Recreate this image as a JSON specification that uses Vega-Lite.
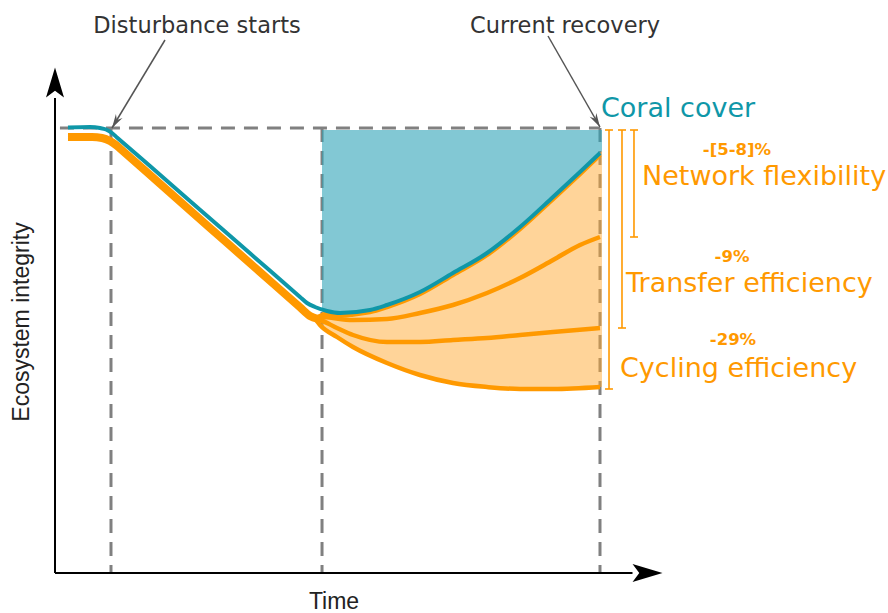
{
  "$schema": "https://vega.github.io/schema/vega-lite/v6.json",
  "width": 888,
  "height": 613,
  "autosize": "none",
  "padding": 0,
  "background": "white",
  "config": {"view": {"stroke": null}, "axis": {"disable": true}},
  "datasets": {
    "coral": [
      {"t": 2.36, "v": 89.1}, {"t": 6.36, "v": 89.2}, {"t": 8.18, "v": 89.0}, {"t": 9.27, "v": 88.7},
      {"t": 10.36, "v": 88.0}, {"t": 11.27, "v": 87.12}, {"t": 17.27, "v": 81.38}, {"t": 26.36, "v": 72.66},
      {"t": 35.45, "v": 63.94}, {"t": 44.55, "v": 55.22}, {"t": 45.82, "v": 54.0}, {"t": 47.27, "v": 53.2},
      {"t": 49.45, "v": 52.4}, {"t": 51.82, "v": 52.0}, {"t": 57.27, "v": 52.6}, {"t": 60.36, "v": 53.6},
      {"t": 66.36, "v": 56.2}, {"t": 72.36, "v": 60.0}, {"t": 78.55, "v": 64.0}, {"t": 84.55, "v": 69.2},
      {"t": 90.55, "v": 75.2}, {"t": 95.45, "v": 80.2}, {"t": 99.09, "v": 84.0}
    ],
    "decline": [
      {"t": 2.36, "v": 87.2}, {"t": 6.73, "v": 87.2}, {"t": 8.55, "v": 87.0}, {"t": 10.0, "v": 86.4},
      {"t": 11.09, "v": 85.6}, {"t": 11.82, "v": 84.9}, {"t": 19.09, "v": 77.84}, {"t": 28.18, "v": 69.02},
      {"t": 37.27, "v": 60.2}, {"t": 44.55, "v": 53.14}, {"t": 46.36, "v": 51.4}, {"t": 47.82, "v": 50.8}
    ],
    "branches": [
      {"series": "Baseline", "t": 47.45, "v": 51.0}, {"series": "Baseline", "t": 49.45, "v": 51.8},
      {"series": "Baseline", "t": 51.82, "v": 51.6}, {"series": "Baseline", "t": 57.27, "v": 52.2},
      {"series": "Baseline", "t": 60.36, "v": 53.2}, {"series": "Baseline", "t": 66.36, "v": 55.8},
      {"series": "Baseline", "t": 72.36, "v": 59.6}, {"series": "Baseline", "t": 78.55, "v": 63.6},
      {"series": "Baseline", "t": 84.55, "v": 68.8}, {"series": "Baseline", "t": 90.55, "v": 74.8},
      {"series": "Baseline", "t": 95.45, "v": 79.8}, {"series": "Baseline", "t": 99.09, "v": 83.6},
      {"series": "Network flexibility", "t": 47.45, "v": 51.0}, {"series": "Network flexibility", "t": 48.18, "v": 51.2},
      {"series": "Network flexibility", "t": 54.18, "v": 50.6}, {"series": "Network flexibility", "t": 60.36, "v": 50.8},
      {"series": "Network flexibility", "t": 66.36, "v": 52.0}, {"series": "Network flexibility", "t": 72.36, "v": 53.6},
      {"series": "Network flexibility", "t": 78.55, "v": 56.0}, {"series": "Network flexibility", "t": 84.55, "v": 59.0},
      {"series": "Network flexibility", "t": 90.55, "v": 62.6}, {"series": "Network flexibility", "t": 95.45, "v": 65.6},
      {"series": "Network flexibility", "t": 99.09, "v": 67.2},
      {"series": "Transfer efficiency", "t": 47.45, "v": 50.8}, {"series": "Transfer efficiency", "t": 48.18, "v": 50.6},
      {"series": "Transfer efficiency", "t": 51.27, "v": 49.0}, {"series": "Transfer efficiency", "t": 54.18, "v": 47.6},
      {"series": "Transfer efficiency", "t": 60.36, "v": 46.2}, {"series": "Transfer efficiency", "t": 66.36, "v": 46.2},
      {"series": "Transfer efficiency", "t": 72.36, "v": 46.6}, {"series": "Transfer efficiency", "t": 78.55, "v": 47.0},
      {"series": "Transfer efficiency", "t": 84.55, "v": 47.6}, {"series": "Transfer efficiency", "t": 90.55, "v": 48.2},
      {"series": "Transfer efficiency", "t": 99.09, "v": 49.0},
      {"series": "Cycling efficiency", "t": 47.45, "v": 50.6}, {"series": "Cycling efficiency", "t": 48.18, "v": 49.6},
      {"series": "Cycling efficiency", "t": 51.27, "v": 47.2}, {"series": "Cycling efficiency", "t": 54.18, "v": 45.2},
      {"series": "Cycling efficiency", "t": 60.36, "v": 42.0}, {"series": "Cycling efficiency", "t": 66.36, "v": 39.6},
      {"series": "Cycling efficiency", "t": 72.36, "v": 38.0}, {"series": "Cycling efficiency", "t": 78.55, "v": 37.2},
      {"series": "Cycling efficiency", "t": 84.55, "v": 36.8}, {"series": "Cycling efficiency", "t": 90.55, "v": 36.8},
      {"series": "Cycling efficiency", "t": 99.09, "v": 37.2}
    ],
    "fills": [
      {"t": 48.55, "hi": 52.66, "lo": 49.4}, {"t": 49.45, "hi": 52.4, "lo": 48.6},
      {"t": 51.27, "hi": 52.1, "lo": 47.2}, {"t": 54.18, "hi": 52.1, "lo": 45.2},
      {"t": 57.27, "hi": 52.6, "lo": 43.6}, {"t": 60.36, "hi": 53.6, "lo": 42.0},
      {"t": 66.36, "hi": 56.2, "lo": 39.6}, {"t": 72.36, "hi": 60.0, "lo": 38.0},
      {"t": 78.55, "hi": 64.0, "lo": 37.2}, {"t": 84.55, "hi": 69.2, "lo": 36.8},
      {"t": 90.55, "hi": 75.2, "lo": 36.8}, {"t": 95.45, "hi": 80.2, "lo": 37.0},
      {"t": 99.09, "hi": 84.0, "lo": 37.2}, {"t": 99.45, "hi": 84.4, "lo": 37.2}
    ],
    "guides": [
      {"t": 0.9, "t2": 99.1, "v": 89, "v2": 89},
      {"t": 10.18, "t2": 10.18, "v": 89, "v2": 0},
      {"t": 48.55, "t2": 48.55, "v": 89, "v2": 0},
      {"t": 99.09, "t2": 99.09, "v": 89, "v2": 0}
    ],
    "brackets": [
      {"t": 100.73, "t2": 100.73, "v": 88.6, "v2": 36.8},
      {"t": 103.09, "t2": 103.09, "v": 88.6, "v2": 49.0},
      {"t": 105.27, "t2": 105.27, "v": 88.6, "v2": 67.2},
      {"t": 100.0, "t2": 101.45, "v": 88.6, "v2": 88.6},
      {"t": 100.0, "t2": 101.45, "v": 36.8, "v2": 36.8},
      {"t": 102.36, "t2": 103.82, "v": 88.6, "v2": 88.6},
      {"t": 102.36, "t2": 103.82, "v": 49.0, "v2": 49.0},
      {"t": 104.55, "t2": 106.0, "v": 88.6, "v2": 88.6},
      {"t": 104.55, "t2": 106.0, "v": 67.2, "v2": 67.2}
    ],
    "axes": [
      {"t": 0, "t2": 0, "v": 0, "v2": 95},
      {"t": 0, "t2": 105, "v": 0, "v2": 0}
    ],
    "pointers": [
      {"t": 20.0, "v": 106.6, "t2": 10.36, "v2": 89.0},
      {"t": 89.64, "v": 107.4, "t2": 99.09, "v2": 89.2}
    ]
  },
  "encoding": {
    "x": {"field": "t", "type": "quantitative", "scale": {"domain": [0, 110], "range": [55, 660], "nice": false, "zero": false}},
    "y": {"field": "v", "type": "quantitative", "scale": {"domain": [0, 100], "range": [573, 73], "nice": false, "zero": false}}
  },
  "layer": [
    {
      "data": {"name": "guides"},
      "mark": {"type": "rule", "color": "#808080", "strokeWidth": 3, "strokeDash": [14, 9]},
      "encoding": {"x2": {"field": "t2"}, "y2": {"field": "v2"}}
    },
    {
      "data": {"name": "fills"},
      "mark": {"type": "area", "color": "#2fa3b7", "opacity": 0.6, "interpolate": "monotone"},
      "encoding": {"y": {"field": "hi", "type": "quantitative"}, "y2": {"datum": 88.6}}
    },
    {
      "data": {"name": "fills"},
      "mark": {"type": "area", "color": "#ffa933", "opacity": 0.5, "interpolate": "monotone"},
      "encoding": {"y": {"field": "lo", "type": "quantitative"}, "y2": {"field": "hi"}}
    },
    {
      "data": {"name": "decline"},
      "mark": {"type": "line", "color": "#ff9900", "strokeWidth": 8, "interpolate": "monotone"},
      "encoding": {}
    },
    {
      "data": {"name": "branches"},
      "mark": {"type": "line", "color": "#ff9900", "strokeWidth": 4.5, "interpolate": "monotone"},
      "encoding": {"detail": {"field": "series", "type": "nominal"}}
    },
    {
      "data": {"name": "coral"},
      "mark": {"type": "line", "color": "#0f97a8", "strokeWidth": 4, "interpolate": "monotone"},
      "encoding": {}
    },
    {
      "data": {"name": "brackets"},
      "mark": {"type": "rule", "color": "#ff9900", "strokeWidth": 1.6},
      "encoding": {"x2": {"field": "t2"}, "y2": {"field": "v2"}}
    },
    {
      "data": {"name": "axes"},
      "mark": {"type": "rule", "color": "black", "strokeWidth": 2},
      "encoding": {"x2": {"field": "t2"}, "y2": {"field": "v2"}}
    },
    {
      "data": {"values": [{"t": 0, "v": 98.1}]},
      "mark": {"type": "point", "filled": true, "color": "black", "opacity": 1, "size": 900, "shape": "M0,-1L0.6,1L0,0.55L-0.6,1Z"},
      "encoding": {}
    },
    {
      "data": {"values": [{"t": 107.73, "v": 0}]},
      "mark": {"type": "point", "filled": true, "color": "black", "opacity": 1, "size": 900, "shape": "M1,0L-1,0.6L-0.55,0L-1,-0.6Z"},
      "encoding": {}
    },
    {
      "data": {"name": "pointers"},
      "mark": {"type": "rule", "color": "#555555", "strokeWidth": 1.5},
      "encoding": {"x2": {"field": "t2"}, "y2": {"field": "v2"}}
    },
    {
      "data": {"values": [{"t": 11.02, "v": 90.2}]},
      "mark": {"type": "point", "filled": true, "color": "#555555", "opacity": 1, "size": 196, "angle": 211, "shape": "M0,-1L0.55,1L0,0.35L-0.55,1Z"},
      "encoding": {}
    },
    {
      "data": {"values": [{"t": 98.45, "v": 90.42}]},
      "mark": {"type": "point", "filled": true, "color": "#555555", "opacity": 1, "size": 196, "angle": 150.3, "shape": "M0,-1L0.55,1L0,0.35L-0.55,1Z"},
      "encoding": {}
    },
    {
      "data": {"values": [
        {"t": 25.82, "v": 109.4, "label": "Disturbance starts"},
        {"t": 92.73, "v": 109.4, "label": "Current recovery"}
      ]},
      "mark": {"type": "text", "font": "DejaVu Sans", "fontSize": 22.5, "color": "#333333", "align": "center", "baseline": "middle"},
      "encoding": {"text": {"field": "label"}}
    },
    {
      "data": {"values": [{"t": 99.27, "v": 92.8, "label": "Coral cover"}]},
      "mark": {"type": "text", "font": "DejaVu Sans", "fontSize": 27, "color": "#0f97a8", "align": "left", "baseline": "middle"},
      "encoding": {"text": {"field": "label"}}
    },
    {
      "data": {"values": [
        {"t": 106.73, "v": 79.2, "label": "Network flexibility"},
        {"t": 103.82, "v": 57.8, "label": "Transfer efficiency"},
        {"t": 102.73, "v": 40.8, "label": "Cycling efficiency"}
      ]},
      "mark": {"type": "text", "font": "DejaVu Sans", "fontSize": 27, "color": "#ff9900", "align": "left", "baseline": "middle"},
      "encoding": {"text": {"field": "label"}}
    },
    {
      "data": {"values": [
        {"t": 124.0, "v": 84.6, "label": "-[5-8]%"},
        {"t": 123.09, "v": 63.2, "label": "-9%"},
        {"t": 123.27, "v": 46.6, "label": "-29%"}
      ]},
      "mark": {"type": "text", "font": "DejaVu Sans", "fontSize": 16.5, "fontWeight": "bold", "color": "#ff9900", "align": "center", "baseline": "middle"},
      "encoding": {"text": {"field": "label"}}
    },
    {
      "data": {"values": [{"t": 50.73, "v": -5.8, "label": "Time"}]},
      "mark": {"type": "text", "font": "Liberation Sans", "fontSize": 23, "color": "#222222", "align": "center", "baseline": "middle"},
      "encoding": {"text": {"field": "label"}}
    },
    {
      "data": {"values": [{"t": -6.0, "v": 50.2, "label": "Ecosystem integrity"}]},
      "mark": {"type": "text", "font": "Liberation Sans", "fontSize": 23, "color": "#222222", "align": "center", "baseline": "middle", "angle": 270},
      "encoding": {"text": {"field": "label"}}
    }
  ]
}
